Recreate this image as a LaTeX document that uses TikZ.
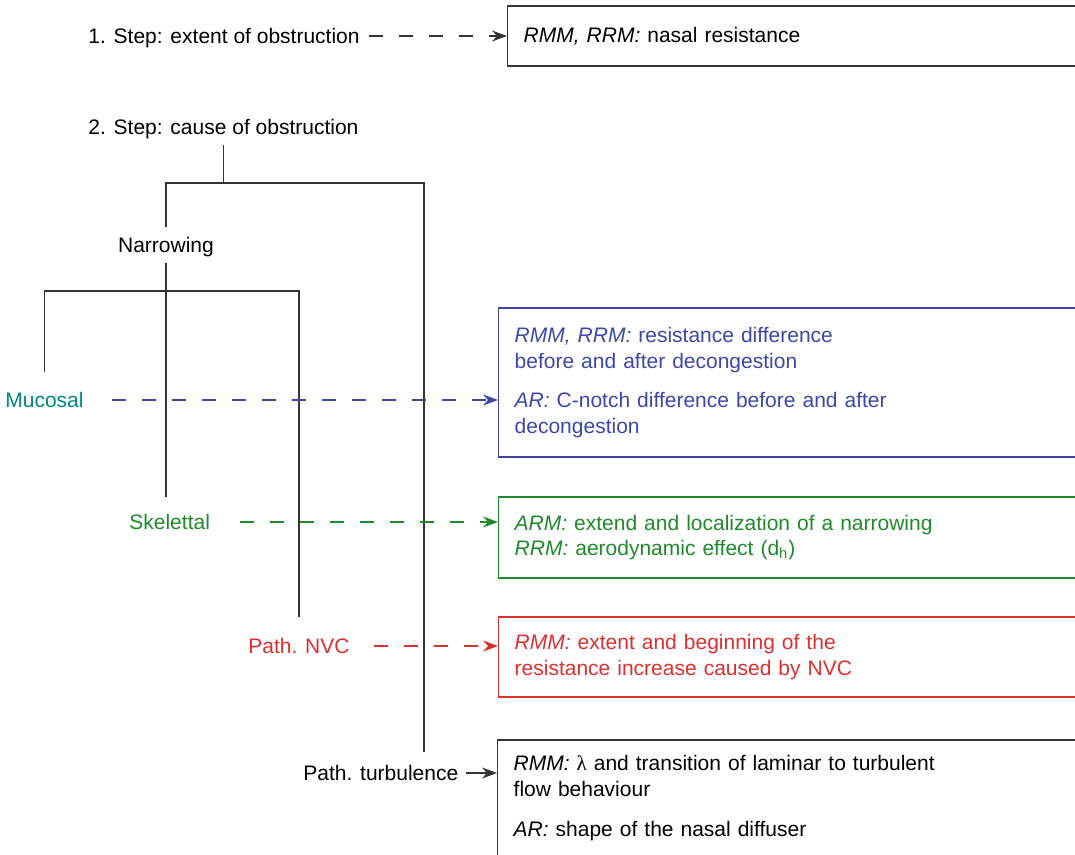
\documentclass[tikz,border=0pt]{standalone}
\usepackage{fontspec}
\setmainfont{Liberation Sans}
\newfontfamily\symfont{Liberation Serif}
\usetikzlibrary{arrows.meta}
\definecolor{lineK}{rgb}{0.2,0.2,0.2}
\definecolor{blueM}{rgb}{0.24,0.28,0.66}
\definecolor{greenS}{rgb}{0.12,0.54,0.17}
\definecolor{redN}{rgb}{0.86,0.19,0.19}
\definecolor{tealM}{rgb}{0.0,0.52,0.50}

\begin{document}
\begin{tikzpicture}[x=0.5pt, y=-0.5pt, >={Stealth[length=7.5pt,width=5.5pt,inset=2.5pt]},
  font=\fontsize{10.5}{12.75}\selectfont,
  lbl/.style={inner sep=0pt, text height=7.5pt, text depth=0pt, minimum height=18pt, anchor=west},
  tree/.style={draw=lineK, line width=0.7pt},
  resbox/.style={draw, line width=0.7pt, anchor=west, align=left, text width=290pt,
    inner xsep=8pt, inner ysep=0pt},
  dashlink/.style={->, line width=0.65pt, dash pattern=on 7pt off 8pt}]
\useasboundingbox (0,0) rectangle (1075,855);
\clip (0,0) rectangle (1075,855);
% ---------- 第一步：阻塞程度 ----------
\node[lbl] (step1) at (88,36) {1. Step: extent of obstruction};
\node[resbox, draw=lineK, minimum height=30pt] (res1) at (507,36) {\textit{RMM, RRM:} nasal resistance};
\draw[dashlink, lineK, shorten <=4.5pt] (step1.east) -- (step1.east -| res1.west);
% ---------- 第二步：阻塞原因 ----------
\node[lbl] (step2) at (88,127) {2. Step: cause of obstruction};
\node[lbl, anchor=center] (narrow) at (166,245) {Narrowing};
\node[lbl, minimum height=28pt, text=tealM] (muc) at (5,400) {Mucosal};
\node[lbl, minimum height=25pt, text=greenS] (skel) at (129,522) {Skelettal};
\node[lbl, minimum height=29pt, text=redN] (nvc) at (248,646) {Path. NVC};
\node[lbl, minimum height=21pt] (turb) at (303,773) {Path. turbulence};
\coordinate (top2) at (221,183);
\coordinate (split) at (166,291);
\coordinate (turbend) at (424,752);
\draw[tree] (step2.south) -- (step2.south |- top2);
\draw[tree] (narrow.north) |- (top2 -| turbend) -- (turbend);
\draw[tree] (narrow.south) -- (narrow.south |- skel.north);
\draw[tree] (muc.north) |- (split) -| (nvc.north);
% 各原因对应的测量方法
\node[resbox, draw=blueM, text=blueM, minimum height=74.5pt] (resM) at (498,382.5)
  {\textit{RMM, RRM:} resistance difference\\ before and after decongestion\\[7pt]
   \textit{AR:} C-notch difference before and after\\ decongestion};
\node[resbox, draw=greenS, text=greenS, minimum height=40.5pt] (resS) at (498,537.5)
  {\textit{ARM:} extend and localization of a narrowing\\
   \textit{RRM:} aerodynamic effect (d\textsubscript{h})};
\node[resbox, draw=redN, text=redN, minimum height=40pt] (resN) at (498,657)
  {\textit{RMM:} extent and beginning of the\\ resistance increase caused by NVC};
\node[resbox, draw=lineK, minimum height=58.5pt] (resT) at (497,798.5)
  {\textit{RMM:} {\symfont λ} and transition of laminar to turbulent\\ flow behaviour\\[7.5pt]
   \textit{AR:} shape of the nasal diffuser};
\draw[dashlink, blueM, shorten <=14pt] (muc.east) -- (muc.east -| resM.west);
\draw[dashlink, greenS, shorten <=15pt] (skel.east) -- (skel.east -| resS.west);
\draw[dashlink, redN, shorten <=12pt] (nvc.east) -- (nvc.east -| resN.west);
\draw[->, lineK, line width=0.65pt, shorten <=3.5pt] (turb.east) -- (turb.east -| resT.west);
\end{tikzpicture}
\end{document}
